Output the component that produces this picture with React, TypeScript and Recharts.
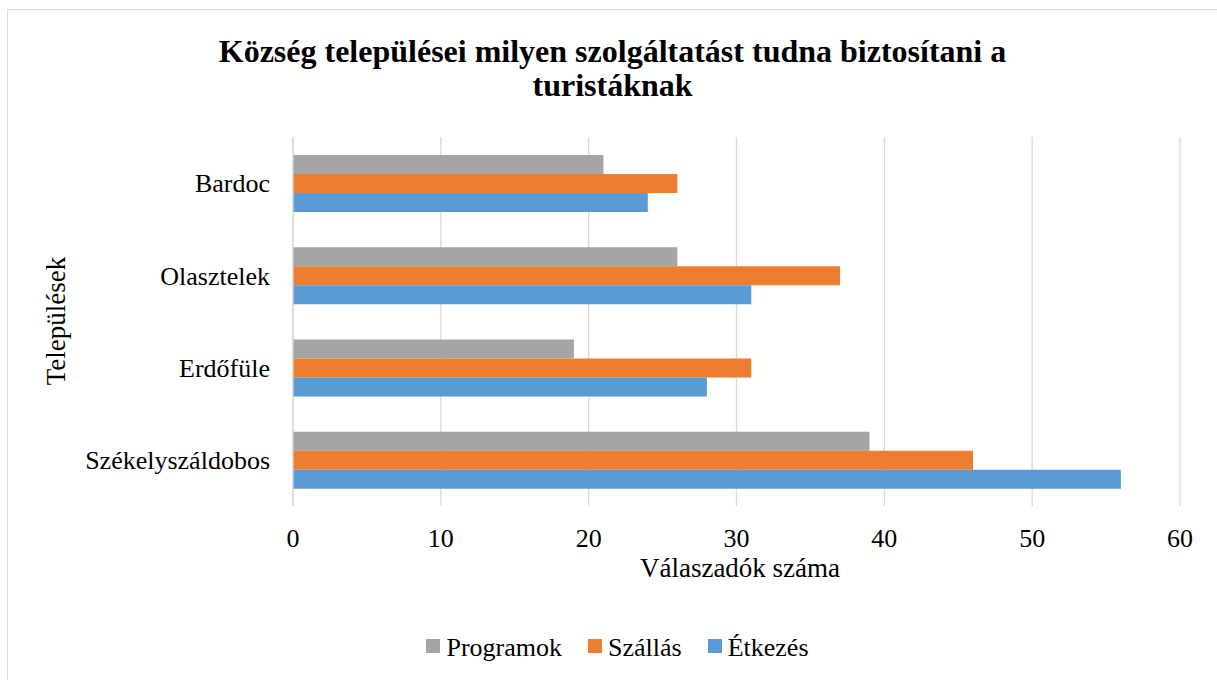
import React from "react";
import { BarChart, Bar, XAxis, YAxis, CartesianGrid, Legend } from "recharts";

const categories = ["Bardoc", "Olasztelek", "Erdőfüle", "Székelyszáldobos"];
const programok = [21, 26, 19, 39];
const szallas = [26, 37, 31, 46];
const etkezes = [24, 31, 28, 56];
const xTicks = [0, 10, 20, 30, 40, 50, 60];

const seriesInfo = [
  { key: "programok", name: "Programok", color: "#A5A5A5" },
  { key: "szallas", name: "Szállás", color: "#ED7D31" },
  { key: "etkezes", name: "Étkezés", color: "#5B9BD5" },
];

const data = categories.map((name, i) => ({
  name,
  programok: programok[i],
  szallas: szallas[i],
  etkezes: etkezes[i],
}));

const FONT = '"Liberation Serif", "Times New Roman", serif';

function renderLegend() {
  return (
    <div
      style={{
        display: "flex",
        justifyContent: "center",
        paddingLeft: 18,
        fontFamily: FONT,
        fontSize: 26,
        lineHeight: "30px",
        color: "#000",
      }}
    >
      {seriesInfo.map((s, i) => (
        <span key={s.key} style={{ marginLeft: i === 0 ? 0 : 26, whiteSpace: "nowrap" }}>
          <span
            style={{
              display: "inline-block",
              width: 14,
              height: 14,
              background: s.color,
              marginRight: 6,
              verticalAlign: 3,
            }}
          />
          {s.name}
        </span>
      ))}
    </div>
  );
}

export default function App() {
  return (
    <div
      style={{
        position: "absolute",
        left: 0,
        top: 0,
        width: 1217,
        height: 680,
        background: "#fff",
        overflow: "hidden",
        fontFamily: FONT,
      }}
    >
      <div
        style={{
          position: "absolute",
          left: 7,
          top: 9,
          width: 1215,
          height: 675,
          border: "1.5px solid #d9d9d9",
          boxSizing: "border-box",
        }}
      />
      <div
        style={{
          position: "absolute",
          left: 0,
          top: 34,
          width: 1225,
          textAlign: "center",
          fontSize: 32,
          fontWeight: "bold",
          lineHeight: "34px",
          color: "#000",
        }}
      >
        Község települései milyen szolgáltatást tudna biztosítani a
        <br />
        turistáknak
      </div>
      <div
        style={{
          position: "absolute",
          left: 56,
          top: 321,
          transform: "translate(-50%, -50%) rotate(-90deg)",
          fontSize: 27,
          whiteSpace: "nowrap",
          color: "#000",
        }}
      >
        Települések
      </div>
      <div
        style={{
          position: "absolute",
          left: 740,
          top: 553,
          transform: "translateX(-50%)",
          fontSize: 27,
          lineHeight: "31px",
          whiteSpace: "nowrap",
          color: "#000",
        }}
      >
        Válaszadók száma
      </div>
      <BarChart
        width={1217}
        height={680}
        data={data}
        layout="vertical"
        margin={{ top: 137, right: 37, left: 0, bottom: 134 }}
        barGap={0}
        style={{ position: "absolute", left: 0, top: 0 }}
      >
        <CartesianGrid horizontal={false} stroke="#d9d9d9" strokeWidth={1.3} />
        <XAxis
          type="number"
          domain={[0, 60]}
          ticks={xTicks}
          height={40}
          axisLine={false}
          tickLine={false}
          tickMargin={17}
          tick={{ fontSize: 26, fill: "#000", fontFamily: FONT }}
        />
        <YAxis
          type="category"
          dataKey="name"
          width={293}
          axisLine={{ stroke: "#d9d9d9", strokeWidth: 1.3 }}
          tickLine={false}
          tickMargin={17}
          tick={{ fontSize: 26, fill: "#000", fontFamily: FONT }}
        />
        <Legend
          layout="horizontal"
          verticalAlign="middle"
          align="center"
          content={renderLegend}
          wrapperStyle={{ top: 633, left: 0, width: 1217 }}
        />
        {seriesInfo.map((s) => (
          <Bar
            key={s.key}
            dataKey={s.key}
            name={s.name}
            fill={s.color}
            barSize={19}
            isAnimationActive={false}
          />
        ))}
      </BarChart>
    </div>
  );
}
